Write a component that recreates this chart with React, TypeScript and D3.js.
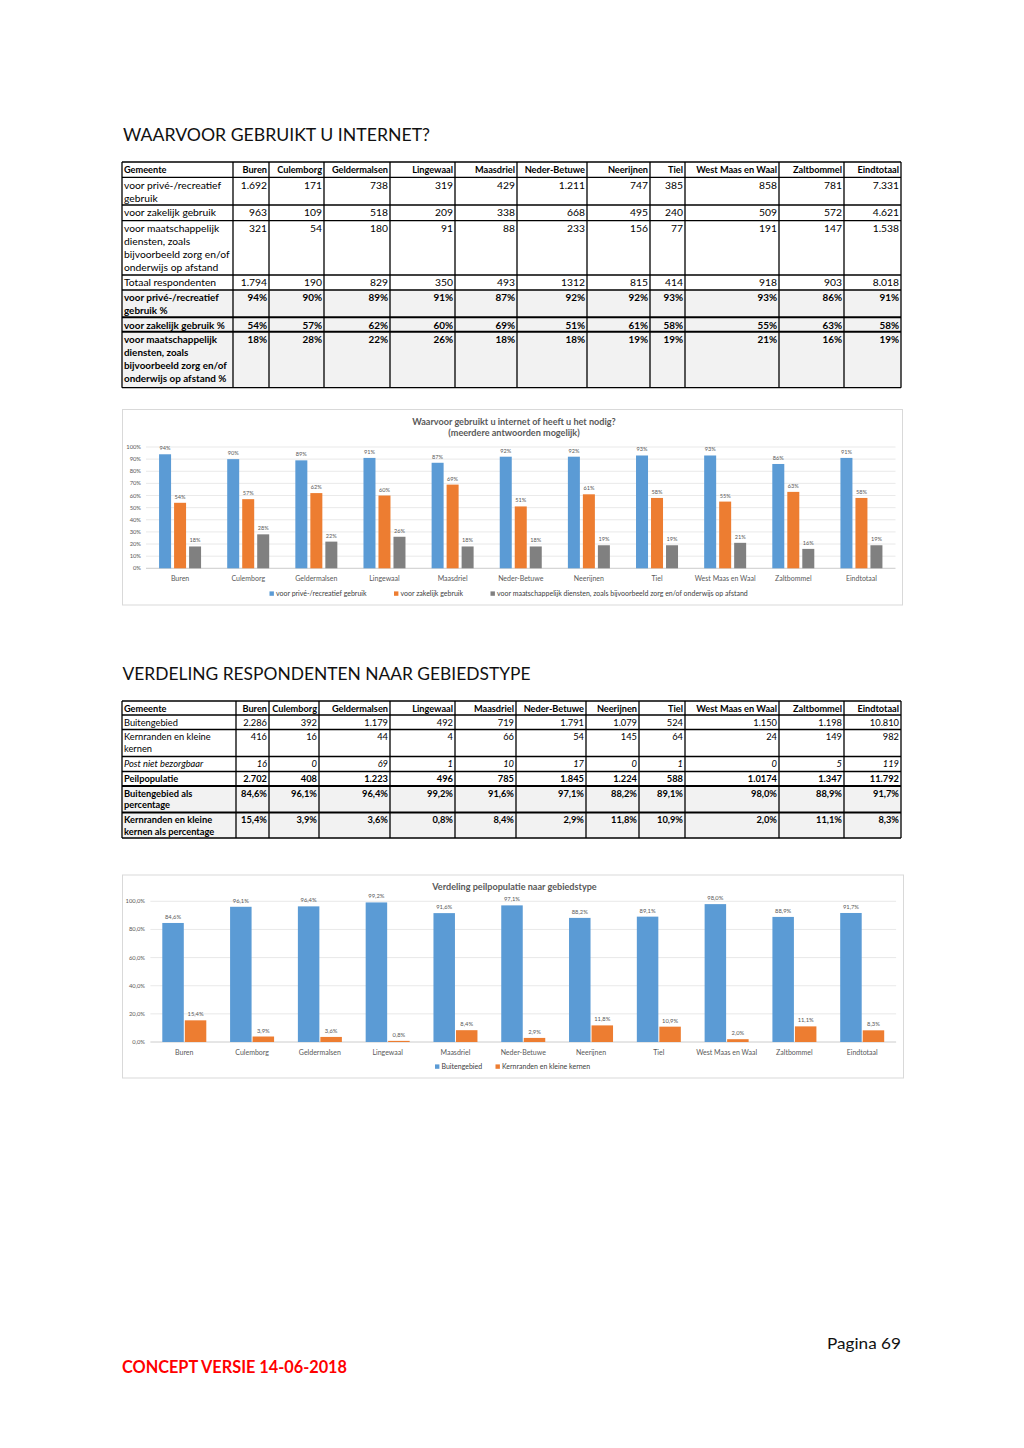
import React from "react";
import * as d3 from "d3";

const FONT = "Lato, 'Open Sans', sans-serif";

// ---------- DATA ----------
const gemeenten = [
  "Buren", "Culemborg", "Geldermalsen", "Lingewaal", "Maasdriel", "Neder-Betuwe",
  "Neerijnen", "Tiel", "West Maas en Waal", "Zaltbommel", "Eindtotaal",
];

// Tabel 1: Waarvoor gebruikt u internet?
const priveGebruik = ["1.692", "171", "738", "319", "429", "1.211", "747", "385", "858", "781", "7.331"];
const zakelijkGebruik = ["963", "109", "518", "209", "338", "668", "495", "240", "509", "572", "4.621"];
const maatschappelijkGebruik = ["321", "54", "180", "91", "88", "233", "156", "77", "191", "147", "1.538"];
const totaalRespondenten = ["1.794", "190", "829", "350", "493", "1312", "815", "414", "918", "903", "8.018"];
const pctPrive = [94, 90, 89, 91, 87, 92, 92, 93, 93, 86, 91];
const pctZakelijk = [54, 57, 62, 60, 69, 51, 61, 58, 55, 63, 58];
const pctMaatschappelijk = [18, 28, 22, 26, 18, 18, 19, 19, 21, 16, 19];

// Tabel 2: Verdeling respondenten naar gebiedstype
const buitengebied = ["2.286", "392", "1.179", "492", "719", "1.791", "1.079", "524", "1.150", "1.198", "10.810"];
const kernranden = ["416", "16", "44", "4", "66", "54", "145", "64", "24", "149", "982"];
const postNietBezorgbaar = ["16", "0", "69", "1", "10", "17", "0", "1", "0", "5", "119"];
const peilpopulatie = ["2.702", "408", "1.223", "496", "785", "1.845", "1.224", "588", "1.0174", "1.347", "11.792"];
const pctBuitengebied = [84.6, 96.1, 96.4, 99.2, 91.6, 97.1, 88.2, 89.1, 98.0, 88.9, 91.7];
const pctKernranden = [15.4, 3.9, 3.6, 0.8, 8.4, 2.9, 11.8, 10.9, 2.0, 11.1, 8.3];

const chart1Series = [
  "voor privé-/recreatief gebruik",
  "voor zakelijk gebruik",
  "voor maatschappelijk diensten, zoals bijvoorbeeld zorg en/of onderwijs op afstand",
];
const chart2Series = ["Buitengebied", "Kernranden en kleine kernen"];
const chart1Colors = ["#5b9bd5", "#ed7d31", "#808080"];
const chart2Colors = ["#5b9bd5", "#ed7d31"];

// ---------- HELPERS ----------
const pct0 = (v: number) => `${v}%`;
const pct1 = (v: number) => d3.format(".1f")(v).replace(".", ",") + "%";

type TRow = {
  label: string[];
  values: string[];
  bold?: boolean;
  italic?: boolean;
  shaded?: boolean;
  size?: number;
};

function DataTable(props: {
  cols: number[];
  rowY: number[];
  rows: TRow[];
  lineH: number;
  baseOff: number;
  fontSize: number;
  thick?: number[];
}) {
  const { cols, rowY, rows, lineH, baseOff, fontSize, thick = [] } = props;
  const left = cols[0];
  const right = cols[cols.length - 1];
  const top = rowY[0];
  const bottom = rowY[rowY.length - 1];
  return (
    <g fontFamily={FONT} fontSize={fontSize} fill="#000">
      {rows.map((r, i) =>
        r.shaded ? (
          <rect key={"s" + i} x={left} y={rowY[i]} width={right - left} height={rowY[i + 1] - rowY[i]} fill="#f2f2f2" />
        ) : null
      )}
      {rows.map((r, i) => (
        <g
          key={"r" + i}
          fontWeight={r.bold ? "bold" : "normal"}
          fontStyle={r.italic ? "italic" : "normal"}
          fontSize={r.size ?? fontSize}
        >
          {r.label.map((l, j) => (
            <text key={j} x={left + 2} y={rowY[i] + baseOff + j * lineH}>
              {l}
            </text>
          ))}
          {r.values.map((v, k) => (
            <text key={"v" + k} x={cols[k + 2] - 2} y={rowY[i] + baseOff} textAnchor="end">
              {v}
            </text>
          ))}
        </g>
      ))}
      {rowY.map((y, i) => (
        <line key={"h" + i} x1={left} x2={right} y1={y} y2={y} stroke="#000" strokeWidth={thick.includes(i) ? 2 : 1.3} />
      ))}
      {cols.map((x, i) => (
        <line key={"c" + i} x1={x} x2={x} y1={top} y2={bottom} stroke="#000" strokeWidth={1.3} />
      ))}
    </g>
  );
}

function GroupedBarChart(props: {
  box: { x: number; y: number; w: number; h: number };
  title: string[];
  titleY: number[];
  xRange: [number, number];
  yRange: [number, number];
  ticks: number[];
  tickFmt: (v: number) => string;
  labelFmt: (v: number) => string;
  names: string[];
  values: number[][];
  colors: string[];
  groupW: number;
  innerPad: number;
  yLabelX: number;
  xLabelY: number;
  legendY: number;
  legendX: number[];
  labelFont: number;
  axisFont: number;
  catFont: number;
  legendFont: number;
  titleFont: number;
}) {
  const p = props;
  const x0 = d3.scaleBand<string>().domain(gemeenten).range(p.xRange);
  const x1 = d3
    .scaleBand<number>()
    .domain(d3.range(p.names.length))
    .range([0, p.groupW])
    .paddingInner(p.innerPad);
  const y = d3.scaleLinear().domain([0, 100]).range(p.yRange);
  const off = (x0.bandwidth() - p.groupW) / 2;
  const cx = (p.box.x + p.box.x + p.box.w) / 2 + 1.5;
  return (
    <g fontFamily={FONT}>
      <rect x={p.box.x} y={p.box.y} width={p.box.w} height={p.box.h} fill="#fff" stroke="#d9d9d9" strokeWidth={1} />
      {p.title.map((t, i) => (
        <text key={i} x={cx} y={p.titleY[i]} textAnchor="middle" fontWeight="bold" fontSize={p.titleFont} fill="#595959">
          {t}
        </text>
      ))}
      {p.ticks.map((t) => (
        <g key={t}>
          <line
            x1={p.xRange[0]}
            x2={p.xRange[1]}
            y1={y(t)}
            y2={y(t)}
            stroke={t === 0 ? "#bfbfbf" : "#e3e3e3"}
            strokeWidth={0.8}
          />
          <text x={p.yLabelX} y={y(t) + p.axisFont * 0.35} textAnchor="end" fontSize={p.axisFont} fill="#595959">
            {p.tickFmt(t)}
          </text>
        </g>
      ))}
      {gemeenten.map((g, gi) => (
        <g key={g} transform={`translate(${(x0(g) ?? 0) + off},0)`}>
          {p.values.map((vals, si) => {
            const v = vals[gi];
            const bx = x1(si) ?? 0;
            return (
              <g key={si}>
                <rect x={bx} y={y(v)} width={x1.bandwidth()} height={y(0) - y(v)} fill={p.colors[si]} />
                <text
                  x={bx + x1.bandwidth() / 2}
                  y={y(v) - 4}
                  textAnchor="middle"
                  fontSize={p.labelFont}
                  fill="#595959"
                >
                  {p.labelFmt(v)}
                </text>
              </g>
            );
          })}
          <text x={x0.bandwidth() / 2 - off} y={p.xLabelY} textAnchor="middle" fontSize={p.catFont} fill="#595959">
            {g}
          </text>
        </g>
      ))}
      {p.names.map((n, i) => (
        <g key={n}>
          <rect x={p.legendX[i]} y={p.legendY - 4.6} width={4.4} height={4.4} fill={p.colors[i]} />
          <text x={p.legendX[i] + 6.5} y={p.legendY} fontSize={p.legendFont} fill="#404040">
            {n}
          </text>
        </g>
      ))}
    </g>
  );
}

// ---------- LAYOUT ----------
const table1Cols = [122, 233, 269, 324, 390, 455, 517, 587, 650, 685, 779, 844, 901];
const table1RowY = [162, 177.3, 205, 220.7, 275, 290, 317.3, 331.7, 387.7];
const table2Cols = [122, 236, 269, 319, 390, 455, 516, 586, 639, 685, 779, 844, 901];
const table2RowY = [701, 715, 729.5, 756.5, 771.5, 786, 812.5, 838];

export default function App() {
  const table1Rows: TRow[] = [
    { label: ["Gemeente"], values: gemeenten, bold: true, size: 9.2 },
    { label: ["voor privé-/recreatief", "gebruik"], values: priveGebruik },
    { label: ["voor zakelijk gebruik"], values: zakelijkGebruik },
    {
      label: ["voor maatschappelijk", "diensten, zoals", "bijvoorbeeld zorg en/of", "onderwijs op afstand"],
      values: maatschappelijkGebruik,
    },
    { label: ["Totaal respondenten"], values: totaalRespondenten },
    { label: ["voor privé-/recreatief", "gebruik %"], values: pctPrive.map(pct0), bold: true, shaded: true, size: 9.9 },
    { label: ["voor zakelijk gebruik %"], values: pctZakelijk.map(pct0), bold: true, shaded: true, size: 9.9 },
    {
      label: ["voor maatschappelijk", "diensten, zoals", "bijvoorbeeld zorg en/of", "onderwijs op afstand %"],
      values: pctMaatschappelijk.map(pct0),
      bold: true,
      shaded: true,
      size: 9.9,
    },
  ];
  const table2Rows: TRow[] = [
    { label: ["Gemeente"], values: gemeenten, bold: true, size: 9.2 },
    { label: ["Buitengebied"], values: buitengebied },
    { label: ["Kernranden en kleine", "kernen"], values: kernranden },
    { label: ["Post niet bezorgbaar"], values: postNietBezorgbaar, italic: true },
    { label: ["Peilpopulatie"], values: peilpopulatie, bold: true },
    { label: ["Buitengebied als", "percentage"], values: pctBuitengebied.map(pct1), bold: true, shaded: true },
    {
      label: ["Kernranden en kleine", "kernen als percentage"],
      values: pctKernranden.map(pct1),
      bold: true,
      shaded: true,
    },
  ];

  return (
    <div style={{ position: "absolute", left: 0, top: 0, width: 1024, height: 1448, background: "#fff" }}>
      <svg width={1024} height={1448} style={{ display: "block" }}>
        <rect width={1024} height={1448} fill="#fff" />
        <text x={123} y={141.3} fontFamily={FONT} fontSize={16.5} fill="#111" textLength={307} lengthAdjust="spacingAndGlyphs">
          WAARVOOR GEBRUIKT U INTERNET?
        </text>
        <DataTable
          cols={table1Cols}
          rowY={table1RowY}
          rows={table1Rows}
          lineH={13.1}
          baseOff={11.3}
          fontSize={10.3}
          thick={[6, 7]}
        />
        <GroupedBarChart
          box={{ x: 122.5, y: 409.5, w: 780, h: 195.5 }}
          title={["Waarvoor gebruikt u internet of heeft u het nodig?", "(meerdere antwoorden mogelijk)"]}
          titleY={[425, 436]}
          titleFont={9.1}
          xRange={[146, 895.5]}
          yRange={[568.3, 447]}
          ticks={d3.range(0, 101, 10)}
          tickFmt={pct0}
          labelFmt={pct0}
          names={chart1Series}
          values={[pctPrive, pctZakelijk, pctMaatschappelijk]}
          colors={chart1Colors}
          groupW={42}
          innerPad={0.2}
          yLabelX={141}
          xLabelY={581}
          legendY={596}
          legendX={[269.5, 394, 490.5]}
          labelFont={5.6}
          axisFont={5.8}
          catFont={7}
          legendFont={7}
        />
        <text x={122.5} y={680} fontFamily={FONT} fontSize={16.5} fill="#111" textLength={408} lengthAdjust="spacingAndGlyphs">
          VERDELING RESPONDENTEN NAAR GEBIEDSTYPE
        </text>
        <DataTable
          cols={table2Cols}
          rowY={table2RowY}
          rows={table2Rows}
          lineH={11.5}
          baseOff={10.7}
          fontSize={9.3}
          thick={[5, 6]}
        />
        <GroupedBarChart
          box={{ x: 122.5, y: 875, w: 781, h: 203 }}
          title={["Verdeling peilpopulatie naar gebiedstype"]}
          titleY={[890]}
          titleFont={9.1}
          xRange={[150.4, 896.1]}
          yRange={[1042, 901.3]}
          ticks={d3.range(0, 101, 20)}
          tickFmt={pct1}
          labelFmt={pct1}
          names={chart2Series}
          values={[pctBuitengebied, pctKernranden]}
          colors={chart2Colors}
          groupW={44}
          innerPad={0.045}
          yLabelX={145}
          xLabelY={1055}
          legendY={1069}
          legendX={[435, 495.5]}
          labelFont={5.8}
          axisFont={5.8}
          catFont={7}
          legendFont={7}
        />
        <text x={827} y={1349} fontFamily={FONT} fontSize={16} fill="#111" textLength={74} lengthAdjust="spacingAndGlyphs">
          Pagina 69
        </text>
        <text
          x={122}
          y={1373}
          fontFamily={FONT}
          fontSize={16.5}
          fontWeight="bold"
          fill="#ff0000"
          textLength={225}
          lengthAdjust="spacingAndGlyphs"
        >
          CONCEPT VERSIE 14-06-2018
        </text>
      </svg>
    </div>
  );
}
